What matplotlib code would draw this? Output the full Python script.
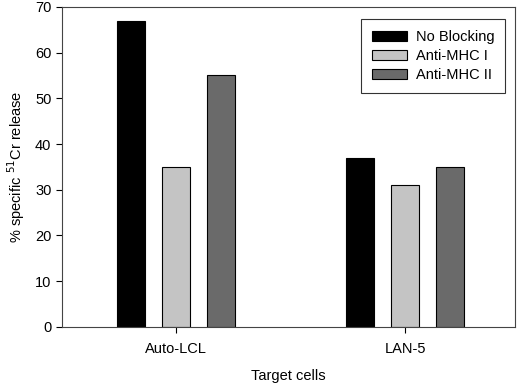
import numpy as np
import matplotlib.pyplot as plt

cells = ["Auto-LCL", "LAN-5"]
series = ["No Blocking", "Anti-MHC I", "Anti-MHC II"]
no_blocking = [67, 37]
anti_mhc1 = [35, 31]
anti_mhc2 = [55, 35]
colors = ["#000000", "#c4c4c4", "#6a6a6a"]

plt.rcParams["font.family"] = ["Liberation Sans", "DejaVu Sans"]

fig = plt.figure(figsize=(5.2, 3.85), dpi=100)
ax = fig.add_axes([0.119, 0.151, 0.871, 0.831])

x = np.arange(len(cells))
w = 0.123
off = 0.197
for i, (vals, lab) in enumerate(zip([no_blocking, anti_mhc1, anti_mhc2], series)):
    ax.bar(x + (i - 1) * off, vals, w, color=colors[i], edgecolor="black",
           linewidth=0.8, label=lab)

ax.set_xlim(-0.5, 1.48)
ax.set_ylim(0, 70)
ax.set_yticks(range(0, 71, 10))
ax.set_xticks(x)
ax.set_xticklabels(cells)
ax.tick_params(labelsize=10.5, direction="out", length=4, width=0.8)
ax.tick_params(axis="x", pad=7)
for s in ax.spines.values():
    s.set_linewidth(0.8)
    s.set_color("#444444")

ax.set_xlabel("Target cells", fontsize=10.5, labelpad=9)
ax.set_ylabel("% specific $^{51}$Cr release", fontsize=10.5, labelpad=6)

leg = ax.legend(loc="upper right", bbox_to_anchor=(0.995, 0.985), fontsize=10.5,
                frameon=True, fancybox=False, edgecolor="black",
                handlelength=2.4, handleheight=0.7, borderpad=0.75,
                labelspacing=0.35, handletextpad=0.6)
leg.get_frame().set_linewidth(0.8)

fig.savefig("out.png", dpi=100)
